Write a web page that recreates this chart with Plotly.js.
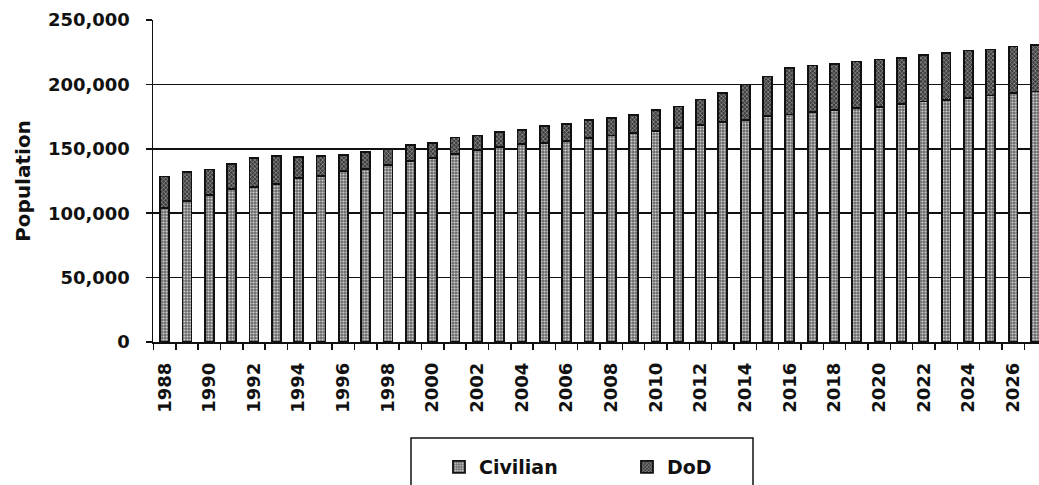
<!DOCTYPE html>
<html>
<head>
<meta charset="utf-8">
<script src="https://cdn.plot.ly/plotly-3.0.1.min.js"></script>
<style>
  html, body { margin: 0; padding: 0; background: #fff; }
  #chart { width: 1039px; height: 485px; }
</style>
</head>
<body>
<div id="chart"></div>
<script>
const years = [1988,1989,1990,1991,1992,1993,1994,1995,1996,1997,1998,1999,2000,2001,2002,2003,2004,2005,2006,2007,
               2008,2009,2010,2011,2012,2013,2014,2015,2016,2017,2018,2019,2020,2021,2022,2023,2024,2025,2026,2027];
const civilian = [104000,109500,113900,118600,120400,122500,127600,128700,132500,134100,137200,140500,142900,146200,148800,151400,154000,154700,155800,158400,
                  160400,162300,163600,166400,168200,170800,172600,175200,176700,178500,180400,181900,182400,184500,186800,187600,189700,191400,193500,194500];
const dod = [24500,22500,20000,19900,22200,22200,16000,15700,13000,13400,12900,12200,11800,12500,11600,11600,10800,12700,13700,14200,
             13700,14200,16700,16500,20100,22500,27400,31000,36200,36200,35600,35900,36900,35900,36200,36700,36600,35700,35900,36200];
const tickYears = [1988,1990,1992,1994,1996,1998,2000,2002,2004,2006,2008,2010,2012,2014,2016,2018,2020,2022,2024,2026];
const tickLabels = tickYears.map(String);
const yTicks = [0,50000,100000,150000,200000,250000];
const yTickLabels = ['0','50,000','100,000','150,000','200,000','250,000'];

const FONT = 'DejaVu Sans, Arial, sans-serif';

const traces = [
  {
    type: 'bar', name: 'Civilian', x: years, y: civilian,
    marker: {
      color: '#888',
      line: {color: '#111', width: 1.8},
      pattern: {shape: '.', bgcolor: '#6a6a6a', fgcolor: '#cfcfcf', size: 3, solidity: 0.4}
    }
  },
  {
    type: 'bar', name: 'DoD', x: years, y: dod,
    marker: {
      color: '#555',
      line: {color: '#111', width: 1.8},
      pattern: {shape: 'x', bgcolor: '#3c3c3c', fgcolor: '#c0c0c0', size: 3, solidity: 0.3}
    }
  }
];

const layout = {
  width: 1039, height: 485,
  margin: {l: 153, r: 0, t: 20, b: 143},
  paper_bgcolor: '#fff', plot_bgcolor: '#fff',
  barmode: 'stack', bargap: 0.6,
  font: {family: FONT, color: '#111', size: 18},
  showlegend: true,
  legend: {
    orientation: 'h', xref: 'container', yref: 'container',
    x: 0.4225, xanchor: 'left', y: 0.037, yanchor: 'middle',
    font: {family: FONT, size: 19, color: '#111', weight: 'bold'},
    entrywidth: 143, bgcolor: 'rgba(0,0,0,0)', borderwidth: 0,
    traceorder: 'normal'
  },
  xaxis: {
    type: 'linear', range: [1987.476, 2027.16],
    tickvals: tickYears, ticktext: tickLabels,
    tickangle: -90, ticks: '', showgrid: false,
    tickfont: {family: FONT, size: 18, color: '#111', weight: 'bold'},
    ticklabelstandoff: 12,
    minor: {ticks: 'outside', ticklen: 6, tickwidth: 1.5, tickcolor: '#111', tick0: 1987.5, dtick: 1, showgrid: false},
    showline: true, linecolor: '#111', linewidth: 1.5, zeroline: false, fixedrange: true
  },
  yaxis: {
    range: [0, 250000], tickvals: yTicks, ticktext: yTickLabels,
    ticks: 'outside', ticklen: 6, tickwidth: 1.5, tickcolor: '#111',
    tickfont: {family: FONT, size: 18, color: '#111', weight: 'bold'},
    ticklabelstandoff: 12,
    showgrid: true, gridcolor: '#111', gridwidth: 1.5,
    showline: true, linecolor: '#111', linewidth: 1.5, zeroline: false,
    title: {text: 'Population', font: {family: FONT, size: 20, color: '#111', weight: 'bold'}, standoff: 12},
    fixedrange: true
  },
  shapes: [
    {type: 'rect', xref: 'paper', yref: 'paper',
     x0: (411 - 153) / 886, x1: (753 - 153) / 886,
     y0: (342 - 438) / 322, y1: (342 - 495) / 322,
     line: {color: '#111', width: 1.5}, fillcolor: 'rgba(0,0,0,0)'}
  ]
};

Plotly.newPlot('chart', traces, layout, {displayModeBar: false, staticPlot: true});
</script>
</body>
</html>
